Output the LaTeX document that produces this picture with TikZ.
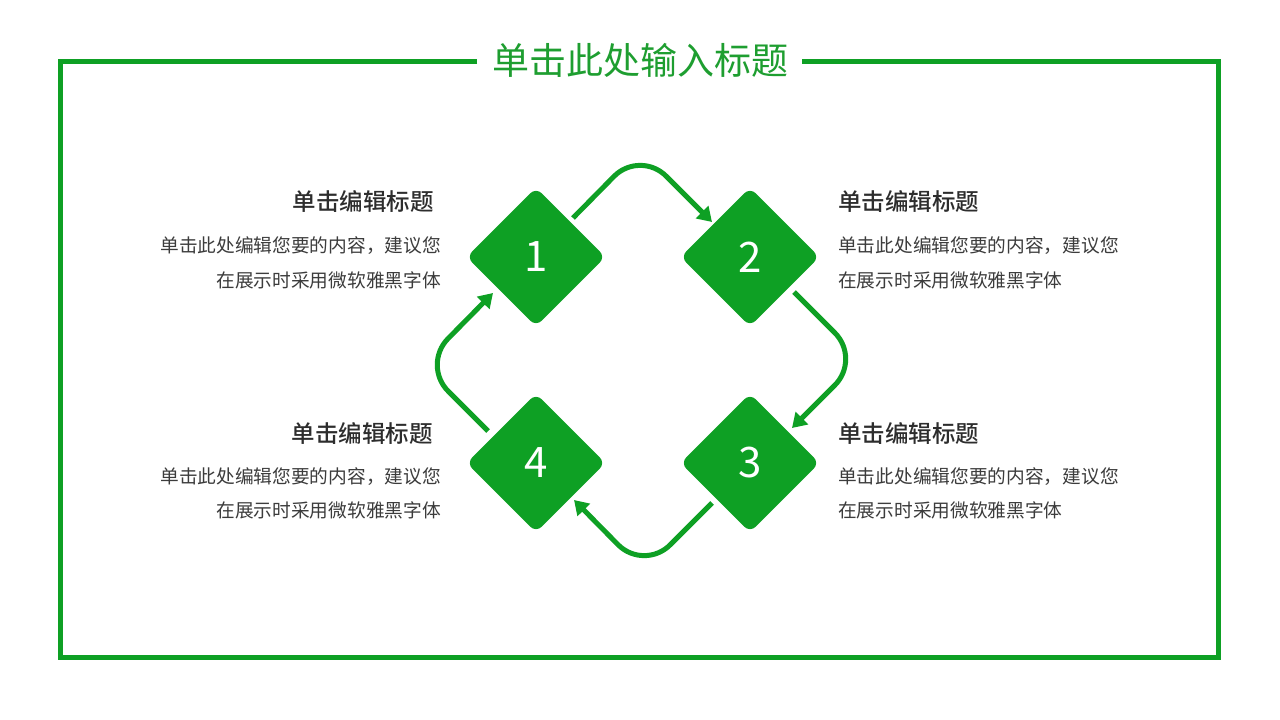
\documentclass[tikz,border=0pt]{standalone}
\usepackage{fontspec}
\setmainfont{Noto Sans CJK SC}
\newfontfamily\headfont{Noto Sans CJK SC}[UprightFont={* Medium}]
\usetikzlibrary{shapes.geometric,arrows.meta,calc}
\definecolor{gmain}{RGB}{14,160,36}
\definecolor{gtitle}{RGB}{30,158,48}
\definecolor{darktxt}{RGB}{45,45,45}
\definecolor{bodytxt}{RGB}{60,60,60}
\tikzset{
  frameline/.style={draw=gmain,line width=5pt,line join=miter},
  dia/.style={shape=diamond,fill=gmain,minimum width=139pt,minimum height=139pt,inner sep=0pt,rounded corners=8pt,text=white,font=\fontsize{42}{42}\selectfont},
  flow/.style={draw=gmain,line width=5pt,rounded corners=37pt,-{Triangle[length=14pt,width=17pt]}},
  headtxt/.style={inner sep=0pt,text=darktxt,font=\headfont\fontsize{23.5}{26}\selectfont},
  bodyline/.style={inner sep=0pt,text=bodytxt,font=\fontsize{18.7}{20}\selectfont},
  maintitle/.style={inner sep=0pt,text=gtitle,font=\fontsize{37}{40}\selectfont}
}
\begin{document}
\begin{tikzpicture}[x=1pt,y=-1pt]
\useasboundingbox[fill=white] (0,0) rectangle (1280,720);
% frame with title gap
\node[maintitle] (title) at (640,60) {单击此处输入标题};
\coordinate (gapL) at (477,61.5);
\coordinate (gapR) at (802,61.5);
\coordinate (tl) at (60.5,61.5);
\coordinate (bl) at (60.5,657.5);
\coordinate (br) at (1218,657.5);
\coordinate (tr) at (1218,61.5);
\draw[frameline] (gapL) -- (tl) -- (bl) -- (br) -- (tr) -- (gapR);
% diamonds
\node[dia] (d1) at (536,257) {1};
\node[dia] (d2) at (750,257) {2};
\node[dia] (d3) at (750,463) {3};
\node[dia] (d4) at (536,463) {4};
% corner points of the loop
\coordinate (v12) at (640,150);
\coordinate (v23) at (861,359);
\coordinate (v34) at (644,571);
\coordinate (v41) at (422,365);
% arrows
\draw[flow] ($(d1)+(37,-39)$) -- (v12) -- ($(d2)+(-38,-35)$);
\draw[flow] ($(d2)+(44,35)$) -- (v23) -- ($(d3)+(42,-35)$);
\draw[flow] ($(d3)+(-38,40)$) -- (v34) -- ($(d4)+(38,37)$);
\draw[flow] ($(d4)+(-48,-32)$) -- (v41) -- ($(d1)+(-43,36)$);
% text blocks, left
\node[headtxt,anchor=east] (h1) at (434,201) {单击编辑标题};
\node[bodyline,anchor=east] (b1a) at (441,246) {单击此处编辑您要的内容，建议您};
\node[bodyline,anchor=east] (b1b) at (441,280) {在展示时采用微软雅黑字体};
\node[headtxt,anchor=east] (h4) at (433,433) {单击编辑标题};
\node[bodyline,anchor=east] (b4a) at (441,477) {单击此处编辑您要的内容，建议您};
\node[bodyline,anchor=east] (b4b) at (441,510) {在展示时采用微软雅黑字体};
% text blocks, right
\node[headtxt,anchor=west] (h2) at (838,201) {单击编辑标题};
\node[bodyline,anchor=west] (b2a) at (838,246) {单击此处编辑您要的内容，建议您};
\node[bodyline,anchor=west] (b2b) at (838,280) {在展示时采用微软雅黑字体};
\node[headtxt,anchor=west] (h3) at (838,433) {单击编辑标题};
\node[bodyline,anchor=west] (b3a) at (838,477) {单击此处编辑您要的内容，建议您};
\node[bodyline,anchor=west] (b3b) at (838,510) {在展示时采用微软雅黑字体};
\end{tikzpicture}
\end{document}
